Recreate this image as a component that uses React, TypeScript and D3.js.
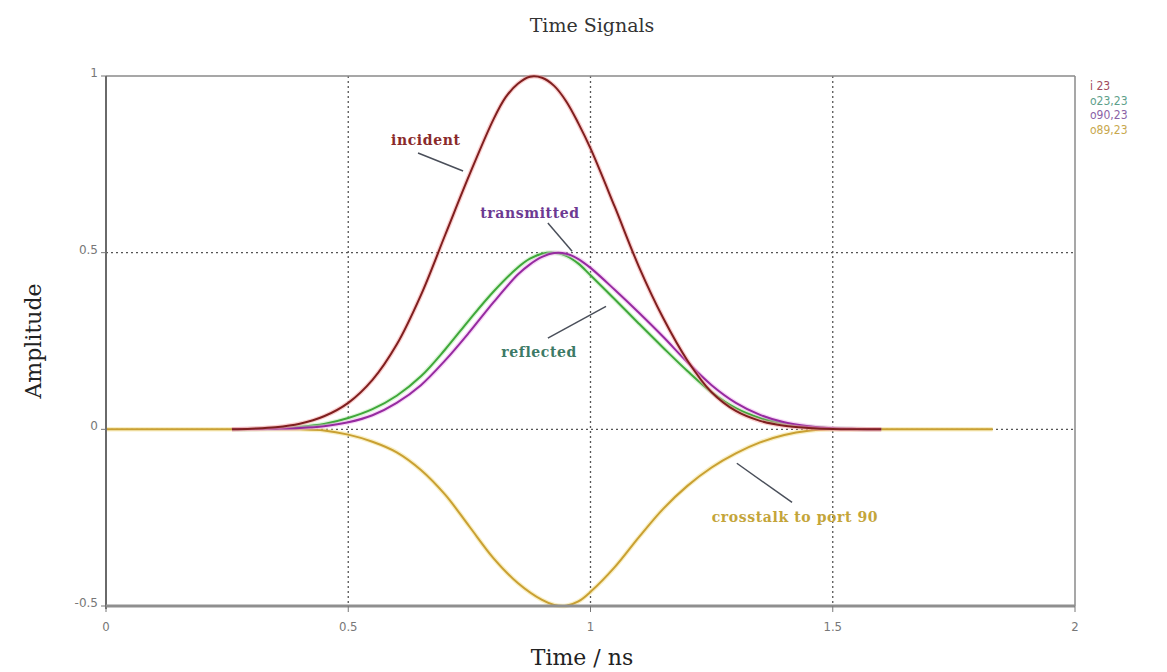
import React from "react";
import * as d3 from "d3";

// time axis in ns, amplitude normalised
const xTicks = [0, 0.5, 1, 1.5, 2];
const yTicks = [1, 0.5, 0, -0.5];
const xTickLabels = ["0", "0.5", "1", "1.5", "2"];
const yTickLabels = ["1", "0.5", "0", "-0.5"];

const incident: [number, number][] = [
  [0.26, 0], [0.3, 0.002], [0.35, 0.006], [0.4, 0.016], [0.45, 0.037], [0.5, 0.075],
  [0.55, 0.14], [0.6, 0.24], [0.65, 0.38], [0.7, 0.55], [0.75, 0.72], [0.8, 0.878],
  [0.825, 0.94], [0.85, 0.978], [0.875, 0.998], [0.9, 0.995], [0.925, 0.972], [0.95, 0.928],
  [0.975, 0.866], [1.0, 0.795], [1.05, 0.63], [1.1, 0.46], [1.15, 0.315], [1.2, 0.195],
  [1.25, 0.105], [1.3, 0.052], [1.35, 0.024], [1.4, 0.01], [1.45, 0.004], [1.5, 0.001], [1.6, 0],
];

const transmitted: [number, number][] = [
  [0.26, 0], [0.3, 0.001], [0.35, 0.002], [0.4, 0.004], [0.45, 0.009], [0.5, 0.02],
  [0.55, 0.04], [0.6, 0.075], [0.65, 0.125], [0.7, 0.195], [0.75, 0.275], [0.8, 0.36],
  [0.85, 0.438], [0.875, 0.467], [0.9, 0.488], [0.925, 0.499], [0.95, 0.497], [0.975, 0.482],
  [1.0, 0.457], [1.05, 0.395], [1.1, 0.33], [1.15, 0.262], [1.2, 0.19], [1.25, 0.125],
  [1.3, 0.075], [1.35, 0.041], [1.4, 0.02], [1.45, 0.009], [1.5, 0.003], [1.55, 0.001], [1.6, 0],
];

const reflected: [number, number][] = [
  [0.26, 0], [0.3, 0.001], [0.35, 0.003], [0.4, 0.007], [0.45, 0.015], [0.5, 0.032],
  [0.55, 0.057], [0.6, 0.095], [0.65, 0.15], [0.7, 0.226], [0.75, 0.31], [0.8, 0.39],
  [0.85, 0.458], [0.875, 0.483], [0.9, 0.497], [0.925, 0.5], [0.95, 0.491], [0.975, 0.469],
  [1.0, 0.436], [1.05, 0.368], [1.1, 0.299], [1.15, 0.231], [1.2, 0.165], [1.25, 0.105],
  [1.3, 0.06], [1.35, 0.032], [1.4, 0.016], [1.45, 0.007], [1.5, 0.003], [1.55, 0.001], [1.6, 0],
];

const crosstalk: [number, number][] = [
  [0, 0], [0.2, 0], [0.4, 0], [0.45, -0.003], [0.5, -0.015], [0.55, -0.035], [0.6, -0.065],
  [0.65, -0.115], [0.7, -0.185], [0.75, -0.275], [0.8, -0.365], [0.85, -0.435], [0.9, -0.483],
  [0.925, -0.497], [0.95, -0.499], [0.975, -0.487], [1.0, -0.46], [1.05, -0.39], [1.1, -0.305],
  [1.15, -0.225], [1.2, -0.16], [1.25, -0.108], [1.3, -0.068], [1.35, -0.037], [1.4, -0.016],
  [1.45, -0.004], [1.5, 0], [1.65, 0], [1.83, 0],
];

const legendLabels = ["i 23", "o23,23", "o90,23", "o89,23"];

const W = 1167, H = 672;
const left = 106, right = 1075, top = 76, bottom = 606;

export default function App() {
  const x = d3.scaleLinear().domain([0, 2]).range([left, right]);
  const y = d3.scaleLinear().domain([-0.5, 1]).range([bottom, top]);
  const line = d3.line<[number, number]>()
    .x(d => x(d[0]))
    .y(d => y(d[1]))
    .curve(d3.curveCatmullRom.alpha(0.5));

  const series = [
    { data: crosstalk, color: "#c9a032", halo: "#f3e08a" },
    { data: reflected, color: "#3fa83a", halo: "#b8eab0" },
    { data: transmitted, color: "#962aa0", halo: "#f0b0f0" },
    { data: incident, color: "#7f1f1f", halo: "#f5a0a0" },
  ];
  const legendColors = ["#a04a5e", "#5e9f8a", "#8a62a6", "#c8a84e"];

  const notes = [
    { text: "incident", color: "#8a2a2a", at: [0.66, 0.805], from: [0.644, 0.782], to: [0.737, 0.731] },
    { text: "transmitted", color: "#6d3a92", at: [0.875, 0.598], from: [0.912, 0.584], to: [0.962, 0.504] },
    { text: "reflected", color: "#3d7a66", at: [0.894, 0.204], from: [0.912, 0.258], to: [1.032, 0.348] },
    { text: "crosstalk to port 90", color: "#c4a53a", at: [1.422, -0.261], from: [1.302, -0.096], to: [1.416, -0.207] },
  ];

  return (
    <div style={{ position: "absolute", left: 0, top: 0 }}>
      <svg width={W} height={H} style={{ display: "block", background: "#fff" }}>
        <text x={592} y={32} textAnchor="middle" fontFamily="DejaVu Serif" fontSize={19} fill="#333">Time Signals</text>

        {/* grid */}
        {[0.5, 1, 1.5].map(t => (
          <line key={"gx" + t} x1={x(t)} x2={x(t)} y1={top} y2={bottom} stroke="#555" strokeWidth={1.3} strokeDasharray="2,3" />
        ))}
        {[0.5, 0].map(v => (
          <line key={"gy" + v} x1={left} x2={right} y1={y(v)} y2={y(v)} stroke="#555" strokeWidth={1.3} strokeDasharray="2,3" />
        ))}

        {/* frame */}
        <line x1={left} x2={right} y1={top} y2={top} stroke="#8a8a8a" strokeWidth={1.5} />
        <line x1={right} x2={right} y1={top} y2={bottom} stroke="#8a8a8a" strokeWidth={1.5} />

        {/* curves */}
        {series.map((s, i) => (
          <g key={i}>
            <path d={line(s.data) || ""} fill="none" stroke={s.halo} strokeWidth={4.5} strokeOpacity={0.5} />
            <path d={line(s.data) || ""} fill="none" stroke={s.color} strokeWidth={2} />
          </g>
        ))}

        {/* axes */}
        <line x1={left} x2={left} y1={top} y2={bottom + 3} stroke="#6a6a6a" strokeWidth={2} />
        <line x1={left} x2={right} y1={bottom} y2={bottom} stroke="#8f8f8f" strokeWidth={3} />
        {yTicks.map((v, i) => (
          <g key={"yt" + v}>
            <line x1={left - 5} x2={left} y1={y(v)} y2={y(v)} stroke="#777" strokeWidth={1} />
            <text x={left - 8} y={y(v) + 1} textAnchor="end" fontFamily="DejaVu Sans" fontSize={12} fill="#777">{yTickLabels[i]}</text>
          </g>
        ))}
        {xTicks.map((t, i) => (
          <g key={"xt" + t}>
            <line x1={x(t)} x2={x(t)} y1={bottom} y2={bottom + 6} stroke="#777" strokeWidth={1} />
            <text x={x(t)} y={bottom + 25} textAnchor="middle" fontFamily="DejaVu Sans Condensed, DejaVu Sans" fontSize={13} fill="#777">{xTickLabels[i]}</text>
          </g>
        ))}

        {/* axis titles */}
        <text x={582} y={665} textAnchor="middle" fontFamily="DejaVu Serif" fontSize={22} fill="#222">Time / ns</text>
        <text transform={`translate(41,${(top + bottom) / 2}) rotate(-90)`} textAnchor="middle" fontFamily="DejaVu Serif" fontSize={22} fill="#222">Amplitude</text>

        {/* annotations */}
        {notes.map(n => (
          <g key={n.text}>
            <line x1={x(n.from[0])} y1={y(n.from[1])} x2={x(n.to[0])} y2={y(n.to[1])} stroke="#4a4f5a" strokeWidth={1.5} />
            <text x={x(n.at[0])} y={y(n.at[1])} textAnchor="middle" fontFamily="DejaVu Serif" fontWeight="bold" fontSize={14} letterSpacing={0.6} fill={n.color}>{n.text}</text>
          </g>
        ))}

        {/* legend */}
        {legendLabels.map((l, i) => (
          <text key={l} x={1090} y={90 + i * 14.5} fontFamily="DejaVu Sans Condensed, DejaVu Sans" fontSize={12} fill={legendColors[i]}>{l}</text>
        ))}
      </svg>
    </div>
  );
}
